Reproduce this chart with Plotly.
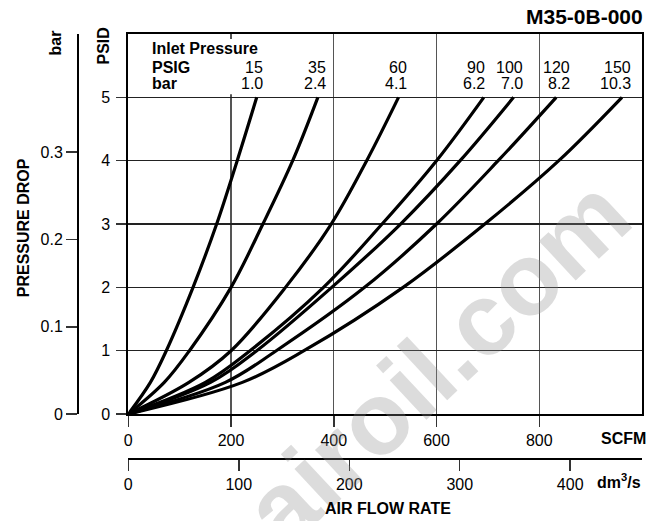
import plotly.graph_objects as go

# ---------------- data ----------------
psid_pts = [0, 0.5, 1, 2, 3, 4, 5]
scfm_15 = [0, 43, 74, 126, 172, 212, 250]
scfm_35 = [0, 70, 119, 200, 262, 320, 369]
scfm_60 = [0, 118, 200, 306, 395, 464, 526]
scfm_90 = [0, 150, 237, 380, 494, 600, 692]
scfm_100 = [0, 160, 250, 396, 530, 646, 750]
scfm_120 = [0, 189, 288, 460, 600, 720, 833]
scfm_150 = [0, 222, 342, 535, 694, 838, 961]

inlet_psig = ["15", "35", "60", "90", "100", "120", "150"]
inlet_bar = ["1.0", "2.4", "4.1", "6.2", "7.0", "8.2", "10.3"]

scfm_ticks = [0, 200, 400, 600, 800]
psid_ticks = [0, 1, 2, 3, 4, 5]
bar_ticks = [0, 0.1, 0.2, 0.3]
bar_tick_text = ["0", "0.1", "0.2", "0.3"]
dm3s_ticks = [0, 100, 200, 300, 400]

curves = [scfm_15, scfm_35, scfm_60, scfm_90, scfm_100, scfm_120, scfm_150]

# ---------------- layout constants ----------------
W, H = 664, 521
L, R, T, B = 78, 22, 33.5, 62
PW = W - L - R
PH = H - T - B
FONT = "Liberation Sans, Arial, Helvetica, sans-serif"


def pxx(x):
    return (x - L) / PW


def pxy(y):
    return (H - B - y) / PH


x_dom0 = pxx(128.3)
y_dom0 = pxy(414)
label_x = [267, 389, 547, 699, 773, 864, 983]  # right edges of legend columns (SCFM units)

fig = go.Figure()

for c in curves:
    fig.add_trace(go.Scatter(
        x=c, y=psid_pts, mode="lines",
        line=dict(color="black", width=3.2, shape="spline", smoothing=1.0),
        hoverinfo="skip", showlegend=False,
    ))

# dummy traces to activate secondary axes
fig.add_trace(go.Scatter(x=[None], y=[None], xaxis="x2", yaxis="y", showlegend=False, hoverinfo="skip"))
fig.add_trace(go.Scatter(x=[None], y=[None], xaxis="x", yaxis="y2", showlegend=False, hoverinfo="skip"))

tickfont = dict(family=FONT, size=16, color="black")

fig.update_layout(
    width=W, height=H,
    margin=dict(l=L, r=R, t=T, b=B, pad=0),
    paper_bgcolor="white", plot_bgcolor="white",
    showlegend=False,
    font=dict(family=FONT, size=16, color="black"),
    xaxis=dict(
        domain=[x_dom0, 1], range=[0, 1000], anchor="y",
        tickvals=scfm_ticks, ticks="outside", ticklen=11, tickwidth=1.5, tickcolor="#333",
        showgrid=True, gridcolor="#555", gridwidth=1.3,
        showline=True, linecolor="black", linewidth=2, mirror=True,
        zeroline=False, tickfont=tickfont, fixedrange=True,
    ),
    yaxis=dict(
        domain=[y_dom0, 1], range=[0, 6], anchor="x",
        tickvals=psid_ticks, ticks="outside", ticklen=10, tickwidth=1.5, tickcolor="#333",
        showgrid=True, gridcolor="#222", gridwidth=1.2,
        showline=True, linecolor="black", linewidth=2, mirror=True,
        zeroline=False, tickfont=tickfont, ticklabelstandoff=3, fixedrange=True,
    ),
    xaxis2=dict(
        overlaying="x", anchor="free", position=0, side="bottom",
        range=[0, 465], tickvals=dm3s_ticks, ticks="outside", ticklen=11, tickwidth=1.5,
        tickcolor="#333", showgrid=False, showline=True, linecolor="black", linewidth=2,
        zeroline=False, tickfont=tickfont, fixedrange=True,
    ),
    yaxis2=dict(
        overlaying="y", anchor="free", position=0, side="left",
        range=[0, 0.4354], tickvals=bar_ticks, ticktext=bar_tick_text,
        ticks="outside", ticklen=11, tickwidth=1.5, tickcolor="#333",
        showgrid=False, showline=True, linecolor="black", linewidth=2,
        zeroline=False, tickfont=tickfont, fixedrange=True,
    ),
)

# white box behind the legend header (hides the 200 grid line there)
fig.add_shape(type="rect", xref="x", yref="y", x0=22, x1=262, y0=5.05, y1=5.92,
              fillcolor="white", line=dict(width=0), layer="above")

bold = dict(family=FONT, size=16, color="black")
ann = []
# watermark
ann.append(dict(x=pxx(437), y=pxy(362), xref="paper", yref="paper", text="<b>airoil.com</b>",
                textangle=-43, xanchor="center", yanchor="middle", showarrow=False,
                font=dict(family=FONT, size=102, color="rgba(140,140,140,0.3)")))
# legend header
ann.append(dict(x=42, y=5.776, xref="x", yref="y", text="<b>Inlet Pressure</b>",
                xanchor="left", yanchor="middle", showarrow=False, font=bold))
ann.append(dict(x=42, y=5.476, xref="x", yref="y", text="<b>PSIG</b>",
                xanchor="left", yanchor="middle", showarrow=False, font=bold))
ann.append(dict(x=42, y=5.214, xref="x", yref="y", text="<b>bar</b>",
                xanchor="left", yanchor="middle", showarrow=False, font=bold))
for xl, p, b in zip(label_x, inlet_psig, inlet_bar):
    ann.append(dict(x=xl, y=5.476, xref="x", yref="y", text=p, xanchor="right",
                    yanchor="middle", showarrow=False, font=tickfont))
    ann.append(dict(x=xl, y=5.214, xref="x", yref="y", text=b, xanchor="right",
                    yanchor="middle", showarrow=False, font=tickfont))

# titles
ann.append(dict(x=pxx(645), y=pxy(15.5), xref="paper", yref="paper", text="<b>M35-0B-000</b>",
                xanchor="right", yanchor="middle", showarrow=False,
                font=dict(family=FONT, size=21, color="black")))
ann.append(dict(x=pxx(55), y=pxy(43), xref="paper", yref="paper", text="<b>bar</b>",
                textangle=-90, xanchor="center", yanchor="middle", showarrow=False, font=bold))
ann.append(dict(x=pxx(103), y=pxy(46), xref="paper", yref="paper", text="<b>PSID</b>",
                textangle=-90, xanchor="center", yanchor="middle", showarrow=False, font=bold))
ann.append(dict(x=pxx(23), y=pxy(228), xref="paper", yref="paper", text="<b>PRESSURE DROP</b>",
                textangle=-90, xanchor="center", yanchor="middle", showarrow=False, font=bold))
ann.append(dict(x=pxx(648), y=pxy(438), xref="paper", yref="paper", text="<b>SCFM</b>",
                xanchor="right", yanchor="middle", showarrow=False, font=bold))
ann.append(dict(x=pxx(643), y=pxy(481), xref="paper", yref="paper", text="<b>dm<sup>3</sup>/s</b>",
                xanchor="right", yanchor="middle", showarrow=False, font=bold))
ann.append(dict(x=pxx(388), y=pxy(509), xref="paper", yref="paper", text="<b>AIR FLOW RATE</b>",
                xanchor="center", yanchor="middle", showarrow=False, font=bold))

fig.update_layout(annotations=ann)

fig.write_html(
    "out.html",
    config={"displayModeBar": False, "staticPlot": True},
    post_script="document.body.style.margin='0';document.body.style.padding='0';",
)
